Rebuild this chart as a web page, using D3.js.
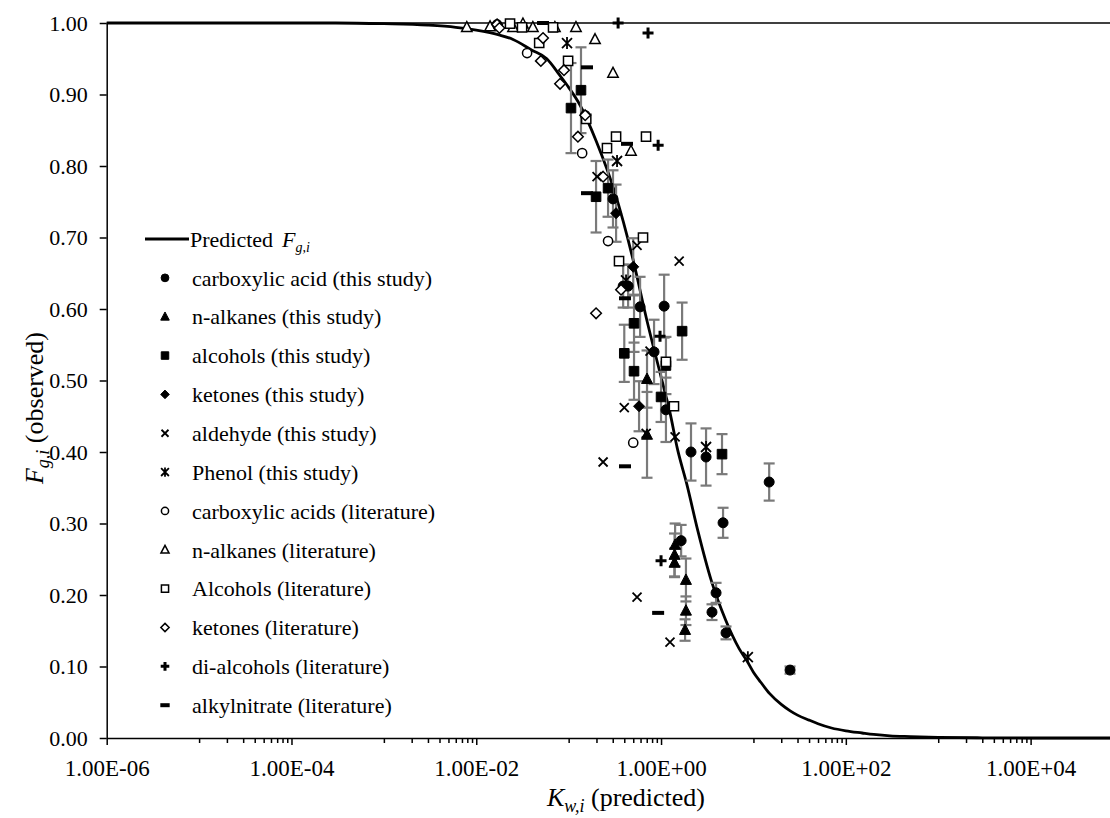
<!DOCTYPE html>
<html>
<head>
<meta charset="utf-8">
<script src="https://cdn.jsdelivr.net/npm/d3@7"></script>
<style>
body { margin: 0; background: #fff; }
text { font-family: "Liberation Serif", "Times New Roman", serif; fill: #000; }
</style>
</head>
<body>
<svg id="chart"></svg>
<script>
// predicted Fg,i curve
var predK = [1e-6, 1e-5, 1e-4, 3e-4, 1e-3, 3e-3, 0.006, 0.01, 0.018, 0.025, 0.04, 0.058, 0.08, 0.1, 0.133, 0.2, 0.318, 0.5, 0.7, 1.0, 1.25, 1.5, 1.9, 2.5, 3.5, 5, 7, 8.5, 10, 12, 15, 20, 25, 30, 40, 50, 70, 100, 150, 200, 300, 500, 1000, 3000, 1e4, 1e5];
var predF = [1.000, 1.000, 1.000, 1.000, 0.999, 0.997, 0.994, 0.990, 0.983, 0.977, 0.962, 0.950, 0.927, 0.910, 0.885, 0.834, 0.762, 0.668, 0.585, 0.505, 0.455, 0.405, 0.355, 0.290, 0.220, 0.165, 0.125, 0.108, 0.092, 0.078, 0.062, 0.047, 0.038, 0.032, 0.025, 0.020, 0.014, 0.010, 0.007, 0.005, 0.003, 0.002, 0.001, 0.0003, 0.000, 0.000];

// [K, F, error]
var carbStudy = [[0.302,0.754,0.04],[0.389,0.632,0.03],[0.44,0.632,0.03],[0.593,0.603,0.042],[1.08,0.604,0.044],[0.84,0.540,0.045],[1.13,0.459,0.045],[2.11,0.400,0.04],[3.07,0.393,0.04],[14.8,0.358,0.026],[4.69,0.301,0.021],[1.65,0.276,0.022],[3.94,0.203,0.014],[3.56,0.176,0.011],[5.05,0.147,0.009],[24.9,0.095,0.005]];
var alkStudy = [[0.705,0.502,0.04],[0.705,0.424,0.06],[1.42,0.270,0.03],[1.40,0.256,0.03],[1.40,0.245,0.02],[1.86,0.221,0.03],[1.86,0.178,0.02],[1.82,0.151,0.015]];
var alcStudy = [[0.106,0.881,0.063],[0.136,0.906,0.06],[0.198,0.757,0.05],[0.267,0.769,0.04],[1.69,0.569,0.04],[0.51,0.580,0.04],[0.40,0.538,0.04],[1.13,0.521,0.04],[0.51,0.513,0.04],[1.0,0.477,0.035],[4.57,0.397,0.028]];
var ketStudy = [[0.326,0.734,0.04],[0.50,0.659,0.04],[0.578,0.464,0.035]];
// [K, F]
var aldStudy = [[0.203,0.785],[0.55,0.689],[1.57,0.667],[0.76,0.541],[0.40,0.462],[0.69,0.426],[0.236,0.386],[0.55,0.197],[1.25,0.134],[1.42,0.421]];
var phenolStudy = [[0.096,0.972],[0.334,0.807],[0.418,0.640],[3.07,0.407],[8.7,0.113]];
var carbLit = [[0.0168,0.998],[0.0355,0.958],[0.151,0.871],[0.14,0.818],[0.267,0.695],[0.50,0.413]];
var alkLit = [[0.0079,0.994],[0.0141,0.995],[0.025,0.994],[0.032,0.999],[0.041,0.994],[0.071,0.994],[0.12,0.994],[0.193,0.977],[0.302,0.930],[0.473,0.821]];
var alcLit = [[0.0232,0.999],[0.0313,0.994],[0.0678,0.994],[0.048,0.972],[0.0986,0.947],[0.155,0.866],[0.326,0.841],[0.688,0.841],[0.26,0.825],[0.638,0.700],[0.351,0.667],[1.13,0.526],[1.38,0.464]];
var ketLit = [[0.0168,0.998],[0.0178,0.993],[0.0528,0.979],[0.050,0.947],[0.089,0.934],[0.0807,0.915],[0.151,0.871],[0.126,0.841],[0.236,0.785],[0.369,0.627],[0.198,0.594]];
var diolLit = [[0.343,1.0],[0.723,0.986],[0.93,0.829],[0.975,0.562],[1.0,0.248]];
var nitrateLit = [[0.0528,1.0],[0.158,0.938],[0.428,0.831],[0.158,0.762],[0.407,0.615],[0.407,0.380],[0.93,0.175]];

var xMajor = [1e-6, 1e-4, 1e-2, 1, 1e2, 1e4];
var yTicks = [0, 0.1, 0.2, 0.3, 0.4, 0.5, 0.6, 0.7, 0.8, 0.9, 1.0];

var series = [
  {name: "carboxylic acid (this study)", data: carbStudy, sym: "circle", filled: true, size: 5},
  {name: "n-alkanes (this study)", data: alkStudy, sym: "triangle", filled: true, size: 5.5},
  {name: "alcohols (this study)", data: alcStudy, sym: "square", filled: true, size: 4.8},
  {name: "ketones (this study)", data: ketStudy, sym: "diamond", filled: true, size: 5.5},
  {name: "aldehyde (this study)", data: aldStudy, sym: "x", size: 4.5},
  {name: "Phenol (this study)", data: phenolStudy, sym: "star", size: 5},
  {name: "carboxylic acids (literature)", data: carbLit, sym: "circle", filled: false, size: 4.6},
  {name: "n-alkanes (literature)", data: alkLit, sym: "triangle", filled: false, size: 5.2},
  {name: "Alcohols (literature)", data: alcLit, sym: "square", filled: false, size: 4.6},
  {name: "ketones (literature)", data: ketLit, sym: "diamond", filled: false, size: 5.3},
  {name: "di-alcohols (literature)", data: diolLit, sym: "plus", size: 5.5},
  {name: "alkylnitrate (literature)", data: nitrateLit, sym: "dash", size: 6}
];

var W = 1110, H = 818;
var svg = d3.select("#chart").attr("width", W).attr("height", H);

var x = d3.scaleLog().domain([1e-6, 1e5]).range([106.7, 1123]);
var y = d3.scaleLinear().domain([0, 1]).range([738, 23]);

function symPath(type, s) {
  if (type == "circle") return "M" + s + ",0A" + s + "," + s + " 0 1,1 " + (-s) + ",0A" + s + "," + s + " 0 1,1 " + s + ",0Z";
  if (type == "square") return "M" + (-s) + "," + (-s) + "h" + 2*s + "v" + 2*s + "h" + (-2*s) + "Z";
  if (type == "triangle") return "M0," + (-1.1*s) + "L" + s + "," + 0.8*s + "L" + (-s) + "," + 0.8*s + "Z";
  if (type == "diamond") return "M0," + (-s) + "L" + s + ",0L0," + s + "L" + (-s) + ",0Z";
  if (type == "x") return "M" + (-s) + "," + (-s) + "L" + s + "," + s + "M" + (-s) + "," + s + "L" + s + "," + (-s);
  if (type == "star") return "M" + (-s) + "," + (-s) + "L" + s + "," + s + "M" + (-s) + "," + s + "L" + s + "," + (-s) + "M0," + (-1.2*s) + "L0," + 1.2*s;
  if (type == "plus") return "M" + (-s) + ",0L" + s + ",0M0," + (-s) + "L0," + s;
  if (type == "dash") return "M" + (-s) + ",0L" + s + ",0";
}

function styleSym(sel, d) {
  if (d.sym == "x" || d.sym == "star") {
    sel.attr("fill", "none").attr("stroke", "#000").attr("stroke-width", 1.8);
  } else if (d.sym == "plus") {
    sel.attr("fill", "none").attr("stroke", "#000").attr("stroke-width", 3);
  } else if (d.sym == "dash") {
    sel.attr("fill", "none").attr("stroke", "#000").attr("stroke-width", 4);
  } else if (d.filled) {
    sel.attr("fill", "#000").attr("stroke", "#000").attr("stroke-width", 1);
  } else {
    sel.attr("fill", "#fff").attr("stroke", "#000").attr("stroke-width", 1.5);
  }
}

// axes
var fmtE = function(v) {
  var e = Math.round(Math.log10(v));
  return "1.00E" + (e < 0 ? "-" : "+") + String(Math.abs(e)).padStart(2, "0");
};
var xMinor = [];
xMajor.forEach(function(m) {
  for (var k = 1; k <= 9; k++) xMinor.push(m * 10 * k);
});
xMinor = xMinor.filter(function(v) { return v < 1e5; });

svg.append("g")
  .attr("transform", "translate(0,738)")
  .call(d3.axisBottom(x).tickValues(xMinor).tickSize(5).tickSizeOuter(0).tickFormat(""))
  .call(function(g) { g.select(".domain").remove(); g.selectAll("line").attr("stroke-width", 1.5); });

var xAxis = svg.append("g")
  .attr("transform", "translate(0,738)")
  .call(d3.axisBottom(x).tickValues(xMajor).tickSize(7).tickSizeOuter(0).tickPadding(15).tickFormat(fmtE));
xAxis.select(".domain").attr("stroke-width", 1.5);
xAxis.selectAll("line").attr("stroke-width", 1.5);
xAxis.selectAll("text").style("font-size", "23px").attr("font-family", null);

var yAxis = svg.append("g")
  .attr("transform", "translate(106.7,0)")
  .call(d3.axisLeft(y).tickValues(yTicks).tickSize(7).tickSizeOuter(0).tickPadding(12).tickFormat(d3.format(".2f")));
yAxis.select(".domain").attr("stroke-width", 1.5);
yAxis.selectAll("line").attr("stroke-width", 1.5);
yAxis.selectAll("text").style("font-size", "22px").attr("font-family", null);

// top border
svg.append("line")
  .attr("x1", x(1e-6)).attr("x2", x(1e5))
  .attr("y1", y(1)).attr("y2", y(1))
  .attr("stroke", "#000").attr("stroke-width", 1.5);

// predicted curve
var curve = predK.map(function(k, i) { return [k, predF[i]]; });
svg.append("path")
  .datum(curve)
  .attr("fill", "none")
  .attr("stroke", "#000")
  .attr("stroke-width", 2.8)
  .attr("d", d3.line().curve(d3.curveMonotoneX).x(function(d) { return x(d[0]); }).y(function(d) { return y(d[1]); }));

// error bars
series.forEach(function(s) {
  s.data.forEach(function(d) {
    if (d[2] === undefined) return;
    var g = svg.append("g").attr("stroke", "#7a7a7a").attr("stroke-width", 2.2);
    var cx = x(d[0]);
    g.append("line").attr("x1", cx).attr("x2", cx).attr("y1", y(d[1] - d[2])).attr("y2", y(d[1] + d[2]));
    g.append("line").attr("x1", cx - 5.5).attr("x2", cx + 5.5).attr("y1", y(d[1] - d[2])).attr("y2", y(d[1] - d[2]));
    g.append("line").attr("x1", cx - 5.5).attr("x2", cx + 5.5).attr("y1", y(d[1] + d[2])).attr("y2", y(d[1] + d[2]));
  });
});

// markers
series.forEach(function(s) {
  svg.append("g").selectAll("path")
    .data(s.data)
    .enter().append("path")
    .attr("transform", function(d) { return "translate(" + x(d[0]) + "," + y(d[1]) + ")"; })
    .attr("d", symPath(s.sym, s.size))
    .call(styleSym, s);
});

// legend
var legY0 = 239, legStep = 38.85;
svg.append("line")
  .attr("x1", 145).attr("x2", 189).attr("y1", legY0).attr("y2", legY0)
  .attr("stroke", "#000").attr("stroke-width", 2.8);
svg.append("text").attr("x", 190).attr("y", legY0).attr("dy", "0.35em")
  .style("font-size", "22px").text("Predicted");
var pf = svg.append("text").attr("x", 282).attr("y", legY0).attr("dy", "0.35em").style("font-size", "22px");
pf.append("tspan").style("font-style", "italic").text("F");
pf.append("tspan").attr("dy", "5").style("font-style", "italic").style("font-size", "14px").text("g,i");

var legend = svg.selectAll(".legend")
  .data(series)
  .enter().append("g")
  .attr("class", "legend")
  .attr("transform", function(d, i) { return "translate(0," + (legY0 + (i + 1) * legStep) + ")"; });

legend.append("path")
  .attr("transform", "translate(165,0)")
  .attr("d", function(d) { return symPath(d.sym, d.size * 0.78); })
  .each(function(d) { d3.select(this).call(styleSym, d); });

legend.append("text")
  .attr("x", 192)
  .attr("dy", "0.35em")
  .style("font-size", "22px")
  .text(function(d) { return d.name; });

// axis titles
var xt = svg.append("text")
  .attr("x", 626)
  .attr("y", 806)
  .style("text-anchor", "middle")
  .style("font-size", "26px");
xt.append("tspan").style("font-style", "italic").text("K");
xt.append("tspan").attr("dy", "6").style("font-style", "italic").style("font-size", "18px").text("w,i");
xt.append("tspan").attr("dy", "-6").text(" (predicted)");

var yt = svg.append("text")
  .attr("transform", "translate(43,408) rotate(-90)")
  .style("text-anchor", "middle")
  .style("font-size", "26px");
yt.append("tspan").style("font-style", "italic").text("F");
yt.append("tspan").attr("dy", "6").style("font-style", "italic").style("font-size", "18px").text("g,i");
yt.append("tspan").attr("dy", "-6").text(" (observed)");
</script>
</body>
</html>
